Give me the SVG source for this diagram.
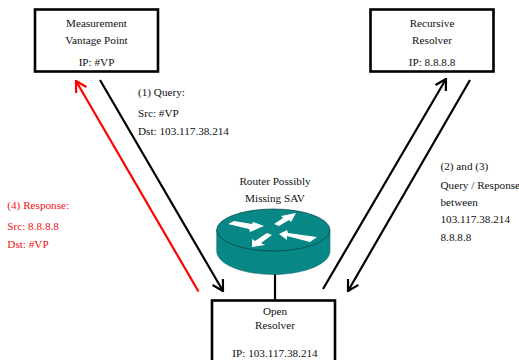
<svg xmlns="http://www.w3.org/2000/svg" width="519" height="360" viewBox="0 0 519 360">
<defs>
<marker id="ab" viewBox="0 0 14 14" refX="12.5" refY="7" markerWidth="14" markerHeight="14" markerUnits="userSpaceOnUse" orient="auto"><path d="M2 1 L12.5 7 L2 13" fill="none" stroke="#000" stroke-width="2.2"/></marker>
<marker id="ar" viewBox="0 0 14 14" refX="12.5" refY="7" markerWidth="14" markerHeight="14" markerUnits="userSpaceOnUse" orient="auto"><path d="M2 1 L12.5 7 L2 13" fill="none" stroke="#f00" stroke-width="2.2"/></marker>
</defs>
<style>
text{font-family:"Liberation Serif","Times New Roman",serif;font-size:11.2px;fill:#111}
.c{text-anchor:middle}
.r{fill:#f01010}
.box{fill:#fff;stroke:#000;stroke-width:2.6}
.l{fill:none;stroke:#000;stroke-width:2.2}
.w{fill:#fff}
</style>
<rect width="519" height="360" fill="#fff"/>
<g id="connectors">
<line class="l" x1="100" y1="80" x2="223" y2="291" marker-end="url(#ab)"/>
<line x1="198.500" y1="291.500" x2="76" y2="81" stroke="#f00" stroke-width="2.2" fill="none" marker-end="url(#ar)"/>
<line class="l" x1="323" y1="289" x2="446" y2="79" marker-end="url(#ab)"/>
<line class="l" x1="470" y1="80" x2="348" y2="291" marker-end="url(#ab)"/>
<line class="l" x1="275" y1="274" x2="275" y2="300"/>
</g>
<g id="vantage">
<rect class="box" x="35" y="9.500" width="123" height="62"/>
<text class="c" x="96.500" y="27">Measurement</text>
<text class="c" x="96.500" y="43.500">Vantage Point</text>
<text class="c" x="96.500" y="66">IP: #VP</text>
</g>
<g id="recursive">
<rect class="box" x="370.500" y="9.500" width="123" height="62"/>
<text class="c" x="432" y="27">Recursive</text>
<text class="c" x="432" y="43.500">Resolver</text>
<text class="c" x="432" y="66">IP: 8.8.8.8</text>
</g>
<g id="open">
<rect class="box" x="212" y="300.500" width="123" height="70"/>
<text class="c" x="275" y="315">Open</text>
<text class="c" x="275" y="329">Resolver</text>
<text class="c" x="275" y="357">IP: 103.117.38.214</text>
</g>
<g id="router">
<text class="c" x="275" y="185">Router Possibly</text>
<text class="c" x="275" y="202">Missing SAV</text>
<path d="M216.700 230 V251 C216.700 264 242 274.500 273.300 274.500 C304 274.500 330 264 330 251 V230 Z" fill="#078886" stroke="#0a5f5c" stroke-width=".5"/>
<ellipse cx="273.300" cy="230" rx="56.600" ry="21" fill="#078886" stroke="#063f3d" stroke-width=".7"/>
<path class="w" d="M228 224 L234 221 L252 224 L253 222 L264 226 L250 232 L249 229 Z"/>
<path class="w" d="M274 224 L283 218 L281 216 L296 213 L291 222 L289 220 L279 226 Z"/>
<path class="w" d="M279 234 L287 230 L288 233 L317 237 L310 242 L287 236 L287 240 Z"/>
<path class="w" d="M252 247 L252 239 L255 241 L267 233 L272 235 L261 243 L265 245 Z"/>
</g>
<g id="labels">
<text x="138" y="96">(1) Query:</text>
<text x="138" y="117">Src: #VP</text>
<text x="138" y="135">Dst: 103.117.38.214</text>
<text x="440.500" y="170">(2) and (3)</text>
<text x="440.500" y="188.500">Query / Response</text>
<text x="440.500" y="206">between</text>
<text x="440.500" y="223">103.117.38.214</text>
<text x="440.500" y="241">8.8.8.8</text>
<text class="r" x="7.300" y="209">(4) Response:</text>
<text class="r" x="7.300" y="230">Src: 8.8.8.8</text>
<text class="r" x="7.300" y="247.500">Dst: #VP</text>
</g>
</svg>
